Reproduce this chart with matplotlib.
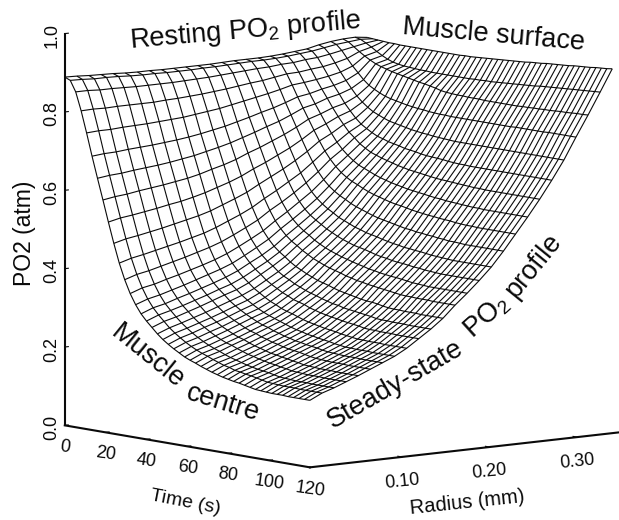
#!/usr/bin/env python3
# -*- coding: utf-8 -*-

import numpy as np
import matplotlib
matplotlib.use('Agg')
import matplotlib.pyplot as plt
from mpl_toolkits.mplot3d import proj3d

plt.rcParams['font.family'] = ['Liberation Sans', 'DejaVu Sans']
plt.rcParams['mathtext.default'] = 'regular'

# PO2 in atm, one row per radius line (centre first, surface last), one column
# per time line. The edges are read off the picture; inner nodes are estimates
# of the mesh by eye, guided by those edges, not exact readings.
po2_r00 = [.889, .883, .856, .810, .756, .699, .645, .592, .538, .486, .438, .398, .365, .339, .318, .302, .288, .274, .262, .252, .243, .235, .227, .221, .216, .210, .205, .200, .196, .192, .189, .186, .184, .181, .178, .175, .174, .173, .172, .172, .172, .171, .171, .171, .171, .171]
po2_r01 = [.888, .882, .856, .811, .758, .702, .649, .597, .545, .494, .447, .408, .376, .350, .330, .314, .300, .286, .275, .265, .256, .248, .241, .235, .230, .224, .219, .214, .211, .206, .204, .201, .199, .196, .193, .190, .189, .188, .187, .187, .187, .186, .186, .186, .186, .186]
po2_r02 = [.886, .880, .854, .810, .758, .703, .651, .600, .549, .499, .453, .414, .382, .357, .337, .322, .308, .295, .284, .274, .265, .257, .250, .244, .239, .233, .228, .224, .220, .216, .213, .210, .208, .206, .203, .200, .199, .198, .197, .197, .197, .196, .196, .196, .196, .196]
po2_r03 = [.885, .880, .854, .811, .760, .706, .655, .605, .554, .505, .460, .422, .391, .366, .347, .331, .318, .305, .294, .285, .276, .268, .261, .255, .251, .245, .240, .235, .232, .228, .225, .222, .220, .217, .215, .212, .211, .210, .209, .209, .209, .208, .208, .208, .208, .208]
po2_r04 = [.884, .879, .853, .811, .761, .708, .658, .609, .559, .511, .467, .430, .399, .375, .356, .341, .328, .315, .304, .295, .286, .279, .272, .266, .262, .256, .251, .247, .243, .239, .237, .234, .232, .229, .227, .224, .223, .222, .221, .221, .221, .220, .220, .220, .220, .220]
po2_r05 = [.882, .877, .852, .811, .762, .710, .661, .613, .565, .518, .474, .438, .408, .385, .366, .351, .339, .326, .315, .306, .298, .291, .284, .278, .274, .268, .264, .259, .256, .252, .249, .247, .245, .242, .239, .237, .236, .235, .234, .234, .234, .233, .233, .233, .233, .233]
po2_r06 = [.881, .876, .852, .811, .764, .713, .665, .618, .570, .525, .482, .447, .417, .395, .376, .362, .350, .337, .327, .318, .310, .303, .296, .290, .286, .280, .276, .271, .268, .264, .262, .259, .257, .255, .252, .250, .249, .248, .247, .247, .247, .246, .246, .246, .246, .246]
po2_r07 = [.881, .876, .852, .813, .766, .716, .670, .623, .577, .532, .490, .456, .427, .405, .387, .372, .360, .348, .338, .329, .321, .314, .308, .303, .298, .293, .288, .284, .281, .277, .275, .272, .270, .268, .265, .263, .261, .261, .260, .260, .260, .259, .259, .259, .259, .259]
po2_r08 = [.880, .875, .852, .814, .768, .720, .675, .630, .585, .541, .501, .467, .439, .417, .400, .386, .374, .362, .353, .344, .336, .330, .323, .318, .314, .309, .304, .300, .297, .294, .291, .289, .287, .284, .282, .280, .278, .278, .277, .277, .277, .276, .276, .276, .276, .276]
po2_r09 = [.880, .875, .853, .816, .772, .725, .682, .639, .595, .553, .514, .481, .454, .433, .417, .403, .392, .380, .371, .363, .355, .349, .342, .338, .334, .328, .324, .320, .317, .314, .312, .309, .307, .305, .303, .300, .299, .299, .298, .298, .298, .297, .297, .297, .297, .297]
po2_r10 = [.880, .875, .854, .818, .776, .731, .689, .647, .605, .565, .527, .496, .470, .450, .433, .420, .410, .398, .389, .382, .374, .368, .362, .357, .353, .348, .344, .340, .338, .334, .332, .330, .328, .326, .324, .321, .320, .320, .319, .319, .319, .318, .318, .318, .318, .318]
po2_r11 = [.880, .876, .855, .821, .780, .737, .697, .657, .617, .578, .542, .512, .487, .468, .452, .440, .430, .419, .410, .403, .396, .390, .384, .380, .376, .371, .367, .364, .361, .358, .355, .353, .352, .350, .347, .345, .344, .344, .343, .343, .343, .342, .342, .342, .342, .342]
po2_r12 = [.880, .876, .857, .824, .786, .745, .707, .670, .632, .595, .561, .533, .509, .491, .476, .464, .455, .445, .437, .429, .423, .417, .412, .408, .404, .399, .396, .392, .390, .387, .385, .383, .381, .379, .377, .375, .374, .374, .373, .373, .373, .372, .372, .372, .372, .372]
po2_r13 = [.881, .877, .859, .828, .792, .753, .717, .681, .645, .611, .578, .551, .529, .512, .498, .487, .478, .468, .460, .453, .447, .442, .437, .433, .429, .425, .422, .418, .416, .413, .411, .409, .408, .406, .404, .402, .401, .400, .399, .399, .399, .399, .399, .399, .399, .399]
po2_r14 = [.882, .878, .861, .832, .798, .762, .728, .694, .660, .627, .597, .571, .551, .534, .521, .511, .502, .493, .486, .479, .473, .468, .463, .460, .457, .453, .449, .446, .444, .441, .439, .438, .436, .434, .433, .431, .430, .429, .428, .428, .428, .428, .428, .428, .428, .428]
po2_r15 = [.882, .879, .863, .835, .804, .770, .738, .707, .675, .645, .616, .593, .573, .558, .546, .536, .528, .519, .513, .507, .501, .497, .492, .489, .486, .482, .479, .476, .474, .471, .470, .468, .467, .465, .463, .462, .461, .460, .459, .459, .459, .459, .459, .459, .459, .459]
po2_r16 = [.882, .879, .864, .840, .811, .780, .751, .722, .693, .665, .640, .618, .600, .586, .575, .566, .559, .551, .545, .540, .535, .530, .526, .523, .520, .517, .514, .511, .510, .507, .506, .504, .503, .501, .500, .498, .498, .497, .496, .496, .496, .496, .496, .496, .496, .496]
po2_r17 = [.883, .880, .867, .845, .819, .791, .765, .739, .713, .688, .665, .646, .630, .617, .607, .599, .593, .586, .580, .575, .571, .567, .563, .560, .558, .555, .552, .550, .548, .546, .545, .543, .542, .541, .539, .538, .537, .537, .536, .536, .536, .536, .536, .536, .536, .536]
po2_r18 = [.885, .882, .868, .846, .822, .796, .772, .749, .726, .704, .684, .668, .655, .644, .635, .629, .623, .617, .612, .608, .604, .601, .598, .595, .593, .591, .589, .587, .585, .584, .582, .581, .580, .579, .578, .577, .577, .576, .576, .576, .576, .576, .576, .576, .576, .576]
po2_r19 = [.888, .885, .872, .850, .826, .804, .783, .761, .741, .723, .706, .694, .681, .672, .664, .659, .654, .650, .646, .642, .639, .636, .634, .632, .630, .628, .626, .625, .624, .623, .622, .621, .620, .619, .619, .618, .618, .618, .618, .618, .618, .618, .618, .618, .618, .618]
po2_r20 = [.891, .888, .874, .853, .831, .810, .790, .769, .752, .736, .723, .714, .706, .699, .695, .690, .687, .684, .680, .678, .676, .673, .671, .670, .669, .668, .666, .665, .664, .664, .663, .663, .663, .663, .663, .663, .663, .663, .663, .663, .663, .663, .663, .663, .663, .663]
po2_r21 = [.898, .893, .879, .859, .838, .819, .801, .784, .771, .760, .751, .745, .739, .734, .731, .728, .725, .722, .720, .718, .717, .715, .714, .713, .712, .711, .711, .711, .711, .711, .711, .711, .711, .711, .711, .711, .711, .711, .711, .711, .711, .711, .711, .711, .711, .711]
po2_r22 = [.903, .898, .885, .867, .850, .835, .820, .808, .800, .793, .787, .783, .780, .777, .774, .772, .770, .769, .767, .766, .765, .765, .764, .764, .764, .764, .764, .764, .764, .764, .764, .764, .764, .764, .765, .765, .765, .765, .765, .765, .766, .766, .766, .766, .766, .766]
po2_r23 = [.906, .901, .891, .881, .872, .864, .857, .852, .848, .844, .841, .838, .835, .832, .829, .827, .824, .821, .817, .815, .814, .813, .813, .812, .812, .812, .811, .811, .811, .811, .811, .811, .811, .812, .812, .813, .813, .814, .814, .815, .816, .816, .817, .818, .818, .819]
po2_r24 = [.907, .904, .897, .889, .880, .872, .865, .860, .857, .855, .854, .853, .852, .852, .851, .851, .851, .851, .851, .851, .851, .851, .852, .852, .853, .853, .854, .855, .856, .857, .858, .859, .860, .861, .863, .864, .865, .866, .867, .868, .869, .870, .871, .872, .873, .874]
po2_r25 = [.903, .902, .901, .900, .899, .899, .898, .898, .898, .898, .898, .898, .898, .898, .898, .898, .898, .898, .899, .899, .900, .901, .902, .903, .904, .905, .906, .907, .908, .909, .911, .912, .913, .915, .916, .917, .918, .919, .921, .922, .923, .924, .926, .927, .928, .930]

po2 = np.array([po2_r00, po2_r01, po2_r02, po2_r03, po2_r04, po2_r05, po2_r06,
                po2_r07, po2_r08, po2_r09, po2_r10, po2_r11, po2_r12, po2_r13,
                po2_r14, po2_r15, po2_r16, po2_r17, po2_r18, po2_r19, po2_r20,
                po2_r21, po2_r22, po2_r23, po2_r24, po2_r25])

# mesh line positions, the mesh starts right at the drawn axis corner
time_s = np.linspace(0, 120, 46)
radius_mm = np.linspace(-0.005, 0.340, 26)

time_ticks = [0, 20, 40, 60, 80, 100, 120]
radius_ticks = [0.10, 0.20, 0.30]
radius_tick_labels = ['0.10', '0.20', '0.30']
po2_ticks = [0.0, 0.2, 0.4, 0.6, 0.8, 1.0]

R_MIN, R_MAX = -0.005, 0.348
INK = '#0a0a0a'


# text placed in picture pixels
def px_text(x, y, s, size, rot):
    fig.text(x / 619, 1 - y / 520, s, fontsize=size, rotation=rot, ha='center',
             va='center', rotation_mode='anchor', color=INK)


# tick label hung off a 3d point, offset given in pixels
def tick_text(x, y, z, s, dx, dy, rot, size=13):
    x2, y2, _ = proj3d.proj_transform(x, y, z, ax.get_proj())
    ax.annotate(s, (x2, y2), xytext=(dx * 0.72, dy * 0.72), textcoords='offset points',
                fontsize=size, rotation=rot, ha='center', va='center',
                rotation_mode='anchor', color=INK, annotation_clip=False)


fig = plt.figure(figsize=(6.19, 5.20), dpi=100)
ax = fig.add_axes([75 / 619, 20 / 520, 520 / 619, 1.0], projection='3d',
                  proj_type='ortho')
ax.set_axis_off()
ax.view_init(elev=8, azim=-39.1)
ax.set_box_aspect((388, 398, 395), zoom=1.275)
ax.set_xlim(0, 120)
ax.set_ylim(R_MIN, R_MAX)
ax.set_zlim(0, 1)

T, R = np.meshgrid(time_s, radius_mm)
ax.plot_wireframe(T, R, po2, rstride=1, cstride=1, color=INK, linewidth=0.8, clip_on=False)

# axes lines
ax.plot([0, 0], [R_MIN, R_MIN], [0, 1], color=INK, lw=1.5, clip_on=False)
ax.plot([0, 120], [R_MIN, R_MIN], [0, 0], color=INK, lw=1.5, clip_on=False)
ax.plot([120, 120], [R_MIN, R_MAX], [0, 0], color=INK, lw=1.5, clip_on=False)

for t in time_ticks:
    if 0 < t < 120:
        ax.plot([t, t], [R_MIN, R_MIN + 0.004], [0, 0], color=INK, lw=0.8, clip_on=False)
    tick_text(t, R_MIN, 0, str(t), 0, -22, -8)
for r, lab in zip(radius_ticks, radius_tick_labels):
    ax.plot([120, 118], [r, r], [0, 0], color=INK, lw=0.8, clip_on=False)
    tick_text(120, r, 0, lab, 0, -25, 6)
for z in po2_ticks:
    ax.plot([0, 0], [R_MIN, R_MIN + 0.004], [z, z], color=INK, lw=0.8, clip_on=False)
    tick_text(0, R_MIN, z, '%.1f' % z, -13, -2, 90, size=13)

px_text(25, 233, 'PO2 (atm)', 16.5, 90)
px_text(185, 502, 'Time (s)', 14, -11)
px_text(467, 503, 'Radius (mm)', 14.5, 6)

px_text(245, 31, 'Resting PO$_2$ profile', 19.5, 5)
px_text(494, 35, 'Muscle surface', 19.5, -5)
px_text(148, 357, 'Muscle', 19.5, -39)
px_text(223, 403, 'centre', 19.5, -17)
px_text(395, 385, 'Steady-state', 19.5, 30)
px_text(487, 317, 'PO$_2$', 19.5, 42)
px_text(533, 266, 'profile', 19.5, 51)

plt.savefig('out.png', dpi=100)
